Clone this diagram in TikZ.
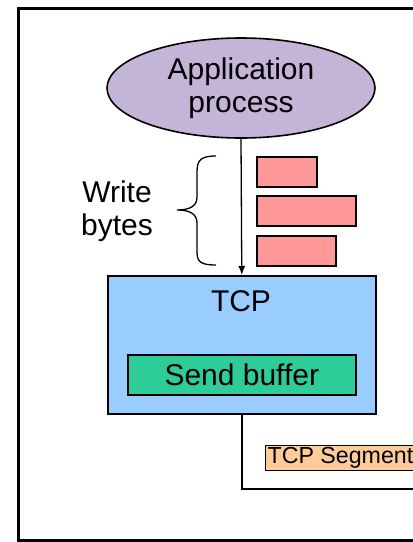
\documentclass[tikz,border=0pt]{standalone}
\usepackage{fontspec}
\setmainfont{Liberation Sans}
\usetikzlibrary{arrows.meta,shapes.geometric}
\definecolor{appfill}{HTML}{C4B4D8}
\definecolor{bytefill}{HTML}{FF9999}
\definecolor{tcpfill}{HTML}{99CCFF}
\definecolor{buffill}{HTML}{2ECC99}
\definecolor{segfill}{HTML}{FFCC99}
\tikzset{
  outline/.style={draw=black, line width=1.6pt},
  bigtext/.style={font=\fontsize{30}{33.5}\selectfont, align=center},
  bytebox/.style={outline, fill=bytefill, minimum height=30pt, inner sep=0pt, anchor=north west},
}
\begin{document}
\begin{tikzpicture}[x=1pt, y=-1pt]
  \useasboundingbox (0,0) rectangle (413,542);
  \clip (0,0) rectangle (413,542);
  % outer frame (runs off to the right)
  \draw[line width=3pt] (440,8) -- (18,8) -- (18,540) -- (440,540);

  % application process
  \node[outline, ellipse, fill=appfill, minimum width=268pt, minimum height=100pt,
        inner sep=0pt, bigtext] (app) at (241,88) {Application\\process};

  % TCP box with its send buffer
  \node[outline, fill=tcpfill, minimum width=268pt, minimum height=138pt,
        inner sep=0pt, anchor=north west] (tcp) at (107,275) {};
  \node[bigtext, anchor=base] (tcplabel) at (241,311) {TCP};
  \node[outline, fill=buffill, minimum width=228pt, minimum height=40pt,
        inner sep=0pt, anchor=north west, bigtext] (buf) at (127,354) {Send buffer};

  % bytes written by the application
  \node[bytebox, minimum width=60pt] (b1) at (256,156) {};
  \node[bytebox, minimum width=99pt] (b2) at (256,195) {};
  \node[bytebox, minimum width=79pt] (b3) at (256,235) {};

  % write arrow
  \draw[line width=1.3pt, -{Latex[length=9pt,width=7pt]}] (app.south) -- (tcp.north);

  % brace and its label
  \draw[line width=1.3pt] (216,156) .. controls (201,156) and (197,160) .. (197,172)
        -- (197,197) .. controls (197,206) and (190,210) .. (177,210)
        .. controls (190,210) and (197,214) .. (197,223)
        -- (197,252) .. controls (197,262) and (201,265) .. (216,265);
  \node[bigtext] (write) at (117,211) {Write\\bytes};

  % outgoing segment line
  \coordinate (segend) at (430,489);
  \draw[line width=1.6pt] (tcp.south) |- (segend);
  \node[outline, line width=1.3pt, fill=segfill, inner sep=2pt, anchor=west,
        font=\fontsize{23.2}{26}\selectfont] (seg) at (265,458) {TCP Segment};
\end{tikzpicture}
\end{document}
